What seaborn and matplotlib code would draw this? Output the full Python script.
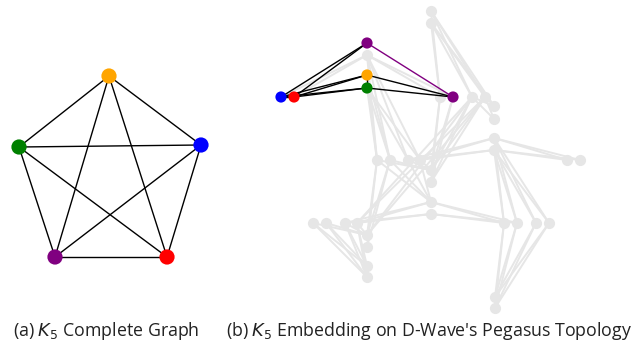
import numpy as np
import pandas as pd
import matplotlib
matplotlib.use('Agg')
import matplotlib.pyplot as plt
from matplotlib.collections import LineCollection
import seaborn as sns

sns.set_style('white')
plt.rcParams['font.family'] = ['Open Sans', 'DejaVu Sans']

# K5 drawing (left), node positions (pixel units)
k5_names = ['orange', 'blue', 'red', 'purple', 'green']
k5_x = [109, 201, 167, 55, 19]
k5_y = [76, 145, 257, 257, 147]

# Pegasus embedding (right): coloured nodes of the embedding
emb_names = ['blue', 'red', 'orange', 'green', 'purple', 'purple']
emb_x = [281, 294, 367, 367, 367, 453]
emb_y = [97, 97, 75, 88, 43, 97]

# grey target nodes
grey_x = [367, 440, 431, 431, 472, 485, 494, 494, 494, 494,
          377, 390, 408, 420, 567, 580, 431, 431, 431, 431,
          313, 326, 345, 357, 367, 367, 367, 367, 504, 517,
          536, 549, 495, 495]
grey_y = [55, 97, 11, 23, 97, 97, 106, 119, 138, 150,
          160, 160, 160, 160, 160, 160, 170, 182, 202, 214,
          223, 223, 223, 223, 235, 247, 266, 277, 223, 223,
          223, 223, 297, 308]

# groups of qubits (e = embedding node index, g = grey node index)
groups = {
    'V1': ['e4', 'g0', 'e2', 'e3'],
    'H1': ['e0', 'e1', 'g1', 'e5'],
    'H1b': ['g4', 'g5'],
    'V2': ['g6', 'g7', 'g8', 'g9'],
    'H2': ['g10', 'g11', 'g12', 'g13'],
    'H2b': ['g14', 'g15'],
    'V3': ['g16', 'g17', 'g18', 'g19'],
    'H3': ['g20', 'g21', 'g22', 'g23'],
    'V4': ['g24', 'g25', 'g26', 'g27'],
    'H4': ['g28', 'g29', 'g30', 'g31'],
    'bot': ['g32', 'g33'],
}
grey_links = [
    (['g2', 'g3'], ['g1', 'g4', 'g5', 'g6']),
    (['g0'], 'H1'), (['g0', 'e3'], 'H2'), (['e2'], ['g10', 'g11']),
    (['g1', 'e5'], ['g16', 'g17']),
    ('H1b', ['g6', 'g7']), (['g8', 'g9'], ['g12', 'g13']),
    (['g4', 'g5'], ['g16', 'g17']), (['g8', 'g9'], 'H2b'),
    (['g8', 'g9'], 'H4'), (['g10', 'g11', 'g12', 'g13'], ['g16', 'g18']),
    (['g10', 'g11'], ['g24', 'g25']), (['g18', 'g19'], ['g22', 'g23']),
    (['g18', 'g19'], ['g28', 'g29']), ('H3', ['g24', 'g26', 'g27']),
    (['g23', 'g24'], ['g4', 'g5']), ('H4', 'bot'),
]

# embedding edges: K5 edges (black) and purple chain
black_edges = [('e0', 'e1'), ('e0', 'e2'), ('e0', 'e3'), ('e0', 'e4'),
               ('e1', 'e2'), ('e1', 'e3'), ('e1', 'e4'), ('e2', 'e3'),
               ('e2', 'e5'), ('e3', 'e5')]
chain_edges = [('e4', 'e5')]


def pos(key):
    i = int(key[1:])
    if key[0] == 'e':
        return (emb_x[i], emb_y[i])
    return (grey_x[i], grey_y[i])


def members(g):
    return groups[g] if isinstance(g, str) else g


grey_segs = []
for a, b in grey_links:
    for u in members(a):
        for v in members(b):
            grey_segs.append([pos(u), pos(v)])

palette = {'orange': 'orange', 'blue': 'blue', 'red': 'red',
           'purple': 'purple', 'green': 'green'}

fig = plt.figure(figsize=(6.41, 3.45), dpi=100)
ax1 = fig.add_axes([0, 0, 220 / 641, 1])
ax2 = fig.add_axes([220 / 641, 0, 421 / 641, 1])
ax1.set_xlim(0, 220)
ax2.set_xlim(220, 641)
for ax in (ax1, ax2):
    ax.set_ylim(345, 0)
    ax.axis('off')

# left: complete graph
k5_segs = [[(k5_x[i], k5_y[i]), (k5_x[j], k5_y[j])]
           for i in range(5) for j in range(i + 1, 5)]
ax1.add_collection(LineCollection(k5_segs, colors='black', linewidths=1.0, zorder=1))
k5_df = pd.DataFrame({'x': k5_x, 'y': k5_y, 'node': k5_names})
sns.scatterplot(data=k5_df, x='x', y='y', hue='node', palette=palette, s=120,
                linewidth=0, legend=False, ax=ax1, zorder=2)

# right: embedding on Pegasus
ax2.add_collection(LineCollection(grey_segs, colors='#e6e6e6', linewidths=1.4, zorder=1))
grey_df = pd.DataFrame({'x': grey_x, 'y': grey_y})
sns.scatterplot(data=grey_df, x='x', y='y', color='#e6e6e6', s=65,
                linewidth=0, legend=False, ax=ax2, zorder=2)
ax2.add_collection(LineCollection([[pos(u), pos(v)] for u, v in black_edges],
                                  colors='black', linewidths=1.0, zorder=3))
ax2.add_collection(LineCollection([[pos(u), pos(v)] for u, v in chain_edges],
                                  colors='purple', linewidths=1.0, zorder=3))
emb_df = pd.DataFrame({'x': emb_x, 'y': emb_y, 'node': emb_names})
sns.scatterplot(data=emb_df, x='x', y='y', hue='node', palette=palette, s=65,
                linewidth=0, legend=False, ax=ax2, zorder=4)
for ax in (ax1, ax2):
    ax.set_xlabel('')
    ax.set_ylabel('')

ax1.text(106, 331, '(a) $K_5$ Complete Graph', ha='center', va='center',
         fontsize=12.8, color='#222222')
ax2.text(429, 331, "(b) $K_5$ Embedding on D-Wave's Pegasus Topology",
         ha='center', va='center', fontsize=12.8, color='#222222')

fig.savefig('out.png', dpi=100)
